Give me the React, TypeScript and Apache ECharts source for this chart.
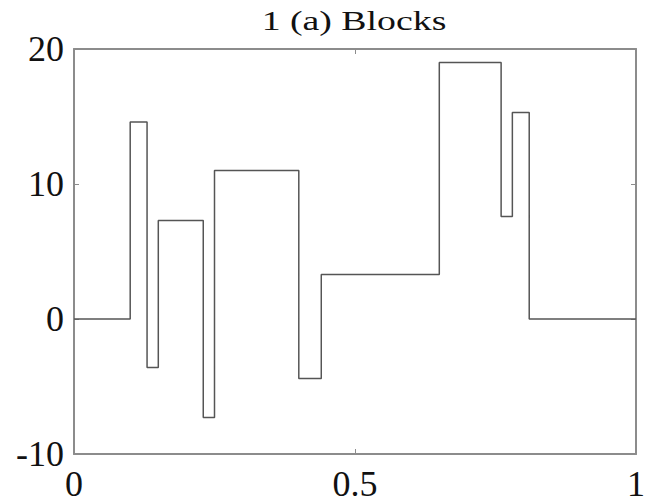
import React, { useEffect, useRef } from "react";
import * as echarts from "echarts";

const breakpoints = [0.1, 0.13, 0.15, 0.23, 0.25, 0.4, 0.44, 0.65, 0.76, 0.78, 0.81];
const levels = [0, 14.6, -3.6, 7.3, -7.3, 11.0, -4.4, 3.3, 19.0, 7.6, 15.3, 0];
const xRange = [0, 1];
const yTicks = [-10, 0, 10, 20];
const xTickLabels = ["0", "0.5", "1"];
const titleText = "1 (a) Blocks";

function buildSteps(): [number, number][] {
  const pts: [number, number][] = [[xRange[0], levels[0]]];
  breakpoints.forEach((b, i) => {
    pts.push([b, levels[i]]);
    pts.push([b, levels[i + 1]]);
  });
  pts.push([xRange[1], levels[levels.length - 1]]);
  return pts;
}

export default function App() {
  const ref = useRef<HTMLDivElement>(null);
  useEffect(() => {
    document.body.style.margin = "0";
    const chart = echarts.init(ref.current!, null, { renderer: "svg" });
    const font = "Liberation Serif";
    const frameColor = "#8c8c8c";
    const baseAxis = {
      axisLine: { show: true, onZero: false, lineStyle: { color: frameColor, width: 2 } },
      axisTick: { show: true, inside: true, length: 5, lineStyle: { color: frameColor, width: 1 } },
      splitLine: { show: false },
    };
    chart.setOption({
      animation: false,
      backgroundColor: "#ffffff",
      graphic: [
        {
          type: "text",
          x: 354,
          y: 6,
          scaleX: 1.35,
          style: {
            text: titleText,
            fontFamily: font,
            fontSize: 28,
            fill: "#111",
            textAlign: "center",
            textVerticalAlign: "top",
          },
        },
      ],
      grid: { left: 74, right: 10, top: 49, bottom: 50 },
      xAxis: [
        {
          ...baseAxis,
          type: "value",
          min: xRange[0],
          max: xRange[1],
          interval: 0.5,
          position: "bottom",
          axisLabel: {
            fontFamily: font,
            fontSize: 36,
            color: "#111",
            margin: 12,
            formatter: (v: number) => {
              const idx = Math.round(v / 0.5);
              return xTickLabels[idx] ?? String(v);
            },
          },
        },
        {
          ...baseAxis,
          type: "value",
          min: xRange[0],
          max: xRange[1],
          interval: 0.5,
          position: "top",
          axisLabel: { show: false },
        },
      ],
      yAxis: [
        {
          ...baseAxis,
          type: "value",
          min: yTicks[0],
          max: yTicks[yTicks.length - 1],
          interval: 10,
          position: "left",
          axisLabel: { fontFamily: font, fontSize: 36, color: "#111", margin: 10 },
        },
        {
          ...baseAxis,
          type: "value",
          min: yTicks[0],
          max: yTicks[yTicks.length - 1],
          interval: 10,
          position: "right",
          axisLabel: { show: false },
        },
      ],
      series: [
        {
          type: "line",
          data: buildSteps(),
          showSymbol: false,
          symbol: "none",
          lineStyle: { color: "#555", width: 1.5 },
        },
      ],
    });
    return () => chart.dispose();
  }, []);
  return <div ref={ref} style={{ width: 648, height: 504 }} />;
}
